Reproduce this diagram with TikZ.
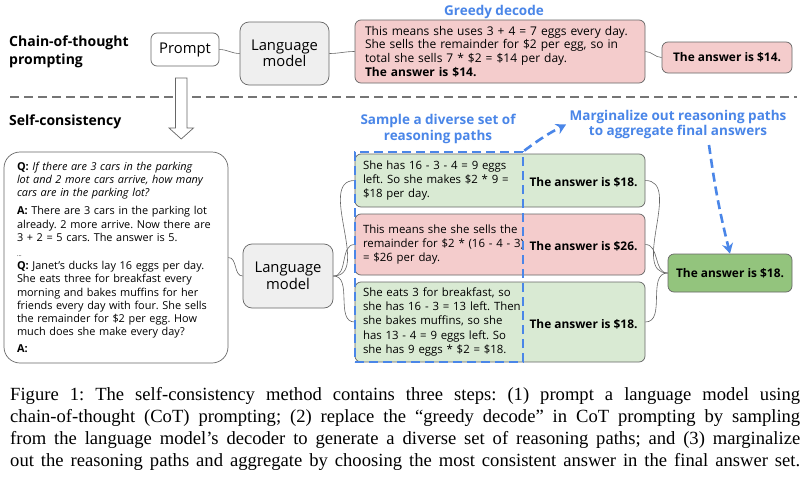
\documentclass[tikz,border=0pt]{standalone}
\usepackage{fontspec}
\setmainfont{Liberation Serif}
\newfontfamily\gsans{Open Sans}
\usetikzlibrary{arrows.meta}
\frenchspacing

\definecolor{pinkfill}{HTML}{F4CCCC}
\definecolor{greenfill}{HTML}{D9EAD3}
\definecolor{answergreen}{HTML}{93C47D}
\definecolor{modelgray}{HTML}{EFEFEF}
\definecolor{edgegray}{HTML}{666666}
\definecolor{noteblue}{HTML}{4A86E8}

\newcommand\txtfont{\gsans\fontsize{11.4}{14.3}\selectfont}
\newcommand\ansfont{\gsans\bfseries\fontsize{11.9}{14.3}\selectfont}
\newcommand\qfont{\gsans\fontsize{10.9}{13.3}\selectfont}
\newcommand\lmfont{\gsans\fontsize{14.8}{16.5}\selectfont}
\newcommand\labfont{\gsans\bfseries\fontsize{14}{18}\selectfont}
\newcommand\notefont{\gsans\bfseries\fontsize{13.5}{15.5}\selectfont}
\newcommand\figline[1]{\hbox to 790pt{#1}}

\tikzset{
  box/.style={draw=edgegray, line width=0.7pt, rounded corners=6pt, inner sep=0pt},
  model/.style={box, fill=modelgray, rounded corners=9pt, align=center, font=\lmfont},
  reasonbox/.style={box, text width=274, inner xsep=8, minimum height=#1, align=left, font=\txtfont},
  answer/.style={font=\ansfont, inner sep=0pt},
  link/.style={draw=edgegray, line width=0.6pt},
  note/.style={text=noteblue, align=center, font=\notefont},
  noteline/.style={draw=noteblue, line width=2.6pt, dash pattern=on 9pt off 5pt}
}

\begin{document}
\begin{tikzpicture}[x=1pt, y=-1pt]
    \path[fill=white, use as bounding box] (0,0) rectangle (812,482);

    \node[anchor=west, align=left, font=\labfont, inner sep=0pt] (cotlabel) at (9,52) {Chain-of-thought\\prompting};
    \node[anchor=west, font=\labfont, inner sep=0pt] (sclabel) at (9,122) {Self-consistency};

    \node[box, minimum width=68, minimum height=33, font=\lmfont] (prompt) at (185,49.5) {Prompt};
    \node[model, minimum width=89, minimum height=63] (lmtop) at (284.5,53.5) {Language\\model};
    \node[box, fill=pinkfill, text width=270, inner xsep=10, minimum height=63, align=left, font=\gsans\fontsize{12}{13.8}\selectfont] (greedy) at (500,51.5) {This means she uses 3 + 4 = 7 eggs every day.\\She sells the remainder for \$2 per egg, so in\\total she sells 7 * \$2 = \$14 per day.\\\textbf{The answer is \$14.}};
    \node[box, fill=pinkfill, minimum width=130, minimum height=31, font=\ansfont] (ans14) at (727,57.5) {The answer is \$14.};
    \node[note] (greedylabel) at (494,12) {Greedy decode};

    \draw[link] (prompt.east) to[out=0, in=180] (lmtop.west);
    \draw[link] (lmtop.east) to[out=0, in=180] (greedy.west);
    \draw[link] (greedy.east) to[out=0, in=180] (ans14.west);

    \draw[edgegray!90, line width=1.4pt, dash pattern=on 9pt off 5pt] (10,97) -- (797,97);
    \draw[edgegray, line width=0.7pt, fill=white] (175.5,78) -- (187,78) -- (187,128) -- (193.5,128) -- (181.25,139) -- (169,128) -- (175.5,128) -- cycle;

    \node[box, fill=white, rounded corners=16pt, text width=198, inner xsep=13, minimum height=211, align=left, font=\qfont] (question) at (116,257.5) {\textbf{Q:} \textit{If there are 3 cars in the parking}\\\textit{lot and 2 more cars arrive, how many}\\\textit{cars are in the parking lot?}\\[4.7pt]\textbf{A:} There are 3 cars in the parking lot\\already. 2 more arrive. Now there are\\3 + 2 = 5 cars. The answer is 5.\\[1.7pt]{\fontsize{6}{7}\selectfont ...}\\[-0.3pt]\textbf{Q:} Janet’s ducks lay 16 eggs per day.\\She eats three for breakfast every\\morning and bakes muffins for her\\friends every day with four. She sells\\the remainder for \$2 per egg. How\\much does she make every day?\\[3.7pt]\textbf{A:}};
    \node[model, minimum width=90, minimum height=64] (lmbot) at (288,276) {Language\\model};

    \node[reasonbox=53, fill=greenfill] (path1) at (500,180.5) {She has 16 - 3 - 4 = 9 eggs\\left. So she makes \$2 * 9 =\\\$18 per day.};
    \node[reasonbox=61, fill=pinkfill] (path2) at (500,244.5) {This means she she sells the\\remainder for \$2 * (16 - 4 - 3)\\= \$26 per day.};
    \node[reasonbox=80, fill=greenfill] (path3) at (500,322) {She eats 3 for breakfast, so\\she has 16 - 3 = 13 left. Then\\she bakes muffins, so she\\has 13 - 4 = 9 eggs left. So\\she has 9 eggs * \$2 = \$18.};
    \node[answer] (ans1) at (583.5,182) {The answer is \$18.};
    \node[answer] (ans2) at (583.5,246) {The answer is \$26.};
    \node[answer] (ans3) at (583.5,324) {The answer is \$18.};
    \node[box, fill=answergreen, minimum width=124, minimum height=38, font=\ansfont] (final) at (730,273) {The answer is \$18.};

    \draw[link] (question.east) to[out=0, in=180] (lmbot.west);
    \foreach \p in {path1,path2,path3} {
        \draw[link] (lmbot.east) to[out=0, in=180] (\p.west);
        \draw[link] (\p.east) to[out=0, in=180] (final.west);
    }

    \node[noteline, minimum width=168, minimum height=210, inner sep=0pt] (sampleframe) at (439,257) {};
    \node[note] (samplelabel) at (438,129) {Sample a diverse set of\\reasoning paths};
    \node[note] (marglabel) at (678,124.5) {Marginalize out reasoning paths\\to aggregate final answers};
    \coordinate (margdrop) at (709,145);
    \draw[noteline, -{Stealth[length=10pt, width=11pt]}] (sampleframe.north east) to[bend left=5] (marglabel.west);
    \draw[noteline, -{Stealth[length=10pt, width=11pt]}] (margdrop) to[bend right=3] (final.north);

    \node[anchor=north west, inner sep=0pt, align=left, font=\fontsize{18.6}{22}\selectfont] (caption) at (10,387) {%
        \figline{Figure 1: The self-consistency method contains three steps: (1) prompt a language model using}\\
        \figline{chain-of-thought (CoT) prompting; (2) replace the “greedy decode” in CoT prompting by sampling}\\
        \figline{from the language model’s decoder to generate a diverse set of reasoning paths; and (3) marginalize}\\
        \figline{out the reasoning paths and aggregate by choosing the most consistent answer in the final answer set.}};
\end{tikzpicture}
\end{document}
